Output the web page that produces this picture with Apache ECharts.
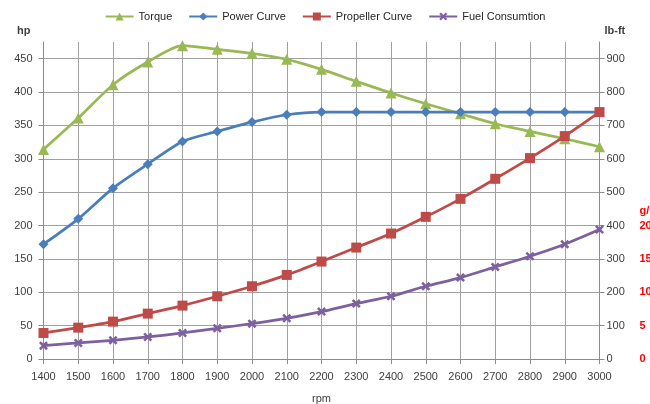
<!DOCTYPE html>
<html>
<head>
<meta charset="utf-8">
<script src="https://cdn.jsdelivr.net/npm/echarts@6/dist/echarts.min.js"></script>
<style>html,body{margin:0;padding:0;background:#fff}#c{width:650px;height:404px}</style>
</head>
<body>
<div id="c"></div>
<script>
var rpm = ['1400','1500','1600','1700','1800','1900','2000','2100','2200','2300','2400','2500','2600','2700','2800','2900','3000'];
var torque = [628, 722, 822, 890, 939, 928, 916, 898, 868, 832, 797, 765, 735, 705, 682, 660, 636];
var powerCurve = [172, 210, 256, 292, 326, 341, 355, 366, 370, 370, 370, 370, 370, 370, 370, 370, 370];
var propellerCurve = [39, 47, 56, 68, 80, 94, 109, 126, 146, 167, 188, 213, 240, 270, 301, 334, 370];
var fuelConsumption = [2.0, 2.4, 2.8, 3.3, 3.9, 4.6, 5.3, 6.1, 7.1, 8.3, 9.4, 10.9, 12.2, 13.8, 15.4, 17.2, 19.4];

var FONT = 'Liberation Sans';
var xMark = 'path://M2,0L5,3L8,0L10,2L7,5L10,8L8,10L5,7L2,10L0,8L3,5L0,2Z';
var gridColor = '#a0a0a0';
var axisColor = '#8c8c8c';
var labelColor = '#404040';

var chart = echarts.init(document.getElementById('c'), null, {renderer: 'canvas'});
chart.setOption({
  animation: false,
  textStyle: {fontFamily: FONT},
  legend: {
    top: 6, left: 'center', itemWidth: 28, itemHeight: 10, itemGap: 16,
    textStyle: {fontFamily: FONT, fontSize: 11, color: '#262626'},
    data: ['Torque', 'Power Curve', 'Propeller Curve', 'Fuel Consumtion']
  },
  grid: {left: 43.5, right: 50.5, top: 42, bottom: 45, containLabel: false, outerBoundsMode: 'none'},
  xAxis: {
    type: 'category', boundaryGap: false, data: rpm,
    name: 'rpm', nameLocation: 'middle', nameGap: 34,
    nameTextStyle: {fontFamily: FONT, fontSize: 11, color: labelColor},
    axisLine: {show: true, lineStyle: {color: axisColor, width: 1}},
    axisTick: {show: true, length: 5, interval: 0, lineStyle: {color: axisColor}},
    axisLabel: {interval: 0, margin: 12, fontFamily: FONT, fontSize: 11, color: labelColor},
    splitLine: {show: true, interval: 0, lineStyle: {color: gridColor, width: 1}}
  },
  yAxis: [
    {
      type: 'value', position: 'left', min: 0, max: 475, interval: 50,
      name: 'hp', nameLocation: 'end', nameGap: 6,
      nameTextStyle: {fontFamily: FONT, fontSize: 11, fontWeight: 'bold', color: labelColor, align: 'right', padding: [0, 13, 0, 0]},
      axisLine: {show: true, lineStyle: {color: axisColor}},
      axisTick: {show: true, length: 5, lineStyle: {color: axisColor}},
      axisLabel: {margin: 11, showMaxLabel: false, fontFamily: FONT, fontSize: 11, color: labelColor},
      splitLine: {show: true, showMaxLine: false, lineStyle: {color: gridColor, width: 1}}
    },
    {
      type: 'value', position: 'right', min: 0, max: 950, interval: 100,
      name: 'lb-ft', nameLocation: 'end', nameGap: 6,
      nameTextStyle: {fontFamily: FONT, fontSize: 11, fontWeight: 'bold', color: labelColor, align: 'left', padding: [0, 0, 0, 5]},
      axisLine: {show: true, lineStyle: {color: axisColor}},
      axisTick: {show: true, length: 5, lineStyle: {color: axisColor}},
      axisLabel: {margin: 7, showMaxLabel: false, fontFamily: FONT, fontSize: 11, color: labelColor},
      splitLine: {show: false}
    },
    {
      type: 'value', position: 'right', offset: 33, min: 0, max: 47.5, interval: 5,
      axisLine: {show: false}, axisTick: {show: false}, splitLine: {show: false},
      axisLabel: {
        margin: 7, showMaxLabel: false, fontFamily: FONT, fontSize: 11, fontWeight: 'bold', color: '#ff0000', lineHeight: 15,
        formatter: function (v) { if (v > 20) return ''; if (v === 20) return 'g/\n20\n '; return String(v); }
      }
    }
  ],
  series: [
    {
      name: 'Torque', type: 'line', yAxisIndex: 1, data: torque, smooth: 0.25,
      symbol: 'triangle', symbolSize: 11,
      lineStyle: {color: '#98b954', width: 2.75}, itemStyle: {color: '#98b954'}
    },
    {
      name: 'Power Curve', type: 'line', yAxisIndex: 0, data: powerCurve, smooth: 0.25,
      symbol: 'diamond', symbolSize: 10,
      lineStyle: {color: '#4a7ebb', width: 2.75}, itemStyle: {color: '#4a7ebb'}
    },
    {
      name: 'Propeller Curve', type: 'line', yAxisIndex: 0, data: propellerCurve, smooth: 0.25,
      symbol: 'rect', symbolSize: 10,
      lineStyle: {color: '#be4b48', width: 2.75}, itemStyle: {color: '#be4b48'}
    },
    {
      name: 'Fuel Consumtion', type: 'line', yAxisIndex: 2, data: fuelConsumption, smooth: 0.25,
      symbol: xMark, symbolSize: 9,
      lineStyle: {color: '#7d60a0', width: 2.75}, itemStyle: {color: '#7d60a0'}
    }
  ]
});
</script>
</body>
</html>
